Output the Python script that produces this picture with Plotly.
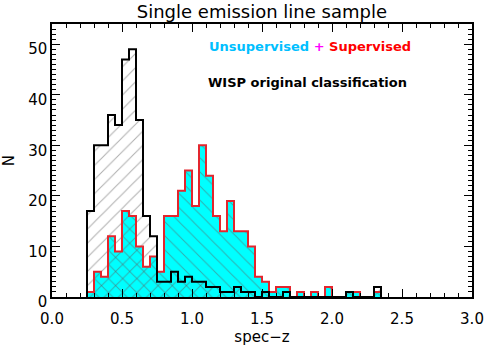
import numpy as np
import plotly.graph_objects as go

# bin edges start (spec-z), bin width 0.05
BIN_START = 0.25
BIN_WIDTH = 0.05

# WISP original classification (counts per bin, from z=0.25)
wisp_counts = [17, 30, 30, 36, 34, 47, 49, 35, 16, 12,
               3, 3, 5, 3, 4, 3, 3, 2, 2, 1,
               1, 2, 1, 1, 0, 1, 0, 0, 1, 0,
               0, 0, 0, 0, 0, 0, 0, 1, 0, 0,
               0, 2]

# Unsupervised + Supervised (counts per bin, from z=0.25)
ml_counts = [1, 5, 4, 12, 9, 17, 16, 10, 6, 8,
             5, 16, 16, 21, 25, 18, 30, 24, 16, 13,
             19, 13, 13, 10, 4, 3, 1, 2, 2, 0,
             1, 0, 1, 0, 2, 0, 0, 1, 1, 0,
             0, 1]


def step_xy(counts):
    edges = BIN_START + BIN_WIDTH * np.arange(len(counts) + 1)
    y = list(counts) + [0]
    return np.round(edges, 3), y


fig = go.Figure()

xm, ym = step_xy(ml_counts)
xw, yw = step_xy(wisp_counts)

HATCH = "#5e5e5e"

# cyan fill with "\" hatching
fig.add_trace(go.Scatter(
    x=xm, y=ym, mode="lines", line=dict(width=0, shape="hv"),
    fill="tozeroy", fillcolor="#00ffff",
    fillpattern=dict(shape="\\", fgcolor=HATCH, bgcolor="#00ffff",
                     size=10, solidity=0.1),
    hoverinfo="skip", showlegend=False,
))
# WISP "/" hatching, transparent background
fig.add_trace(go.Scatter(
    x=xw, y=yw, mode="lines", line=dict(width=0, shape="hv"),
    fill="tozeroy", fillcolor="rgba(0,0,0,0)",
    fillpattern=dict(shape="/", fgcolor=HATCH, bgcolor="rgba(0,0,0,0)",
                     size=10, solidity=0.1),
    hoverinfo="skip", showlegend=False,
))
# outlines
fig.add_trace(go.Scatter(
    x=[BIN_START] + list(xm), y=[0] + ym, mode="lines",
    line=dict(color="#e3262e", width=2, shape="hv"),
    hoverinfo="skip", showlegend=False,
))
fig.add_trace(go.Scatter(
    x=[BIN_START] + list(xw), y=[0] + yw, mode="lines",
    line=dict(color="black", width=2, shape="hv"),
    hoverinfo="skip", showlegend=False,
))

font_main = "DejaVu Sans, Liberation Sans, sans-serif"

fig.add_annotation(
    xref="paper", yref="paper", x=0.368, y=0.919, xanchor="left", yanchor="middle",
    text="<b><span style='color:#00bfff'>Unsupervised</span> "
         "<span style='color:#ff00ff'>+</span> "
         "<span style='color:#ff0000'>Supervised</span></b>",
    showarrow=False, font=dict(size=13, family=font_main),
)
fig.add_annotation(
    xref="paper", yref="paper", x=0.366, y=0.786, xanchor="left", yanchor="middle",
    text="<b>WISP original classification</b>",
    showarrow=False, font=dict(size=13, family=font_main, color="black"),
)

axis_common = dict(
    showline=True, linecolor="black", linewidth=1.5, mirror="ticks",
    ticks="inside", tickcolor="black", showgrid=False, zeroline=False,
    automargin=False,
    tickfont=dict(size=15, family=font_main, color="black"),
)

fig.update_layout(
    width=485, height=346,
    margin=dict(l=52, r=13, t=24, b=49),
    paper_bgcolor="white", plot_bgcolor="white",
    title=dict(text="Single emission line sample", x=0.54, xanchor="center",
               y=0.965, yanchor="middle",
               font=dict(size=18, family=font_main, color="black")),
    xaxis=dict(range=[0, 3], dtick=0.5, tickformat=".1f", ticklen=8, tickwidth=1,
               ticklabelstandoff=7,
               minor=dict(dtick=0.1, ticks="inside", ticklen=4, tickcolor="black"),
               title=dict(text="spec−z", font=dict(size=15, family=font_main, color="black"),
                          standoff=3),
               **axis_common),
    yaxis=dict(range=[0, 54], dtick=10, ticklen=8, tickwidth=1, ticklabelshift=5,
               minor=dict(dtick=1, ticks="inside", ticklen=4, tickcolor="black"),
               title=dict(text="N", font=dict(size=15, family=font_main, color="black"),
                          standoff=10),
               **axis_common),
)

fig.write_html("out.html", config={"displayModeBar": False},
               post_script="document.body.style.margin='0';")
